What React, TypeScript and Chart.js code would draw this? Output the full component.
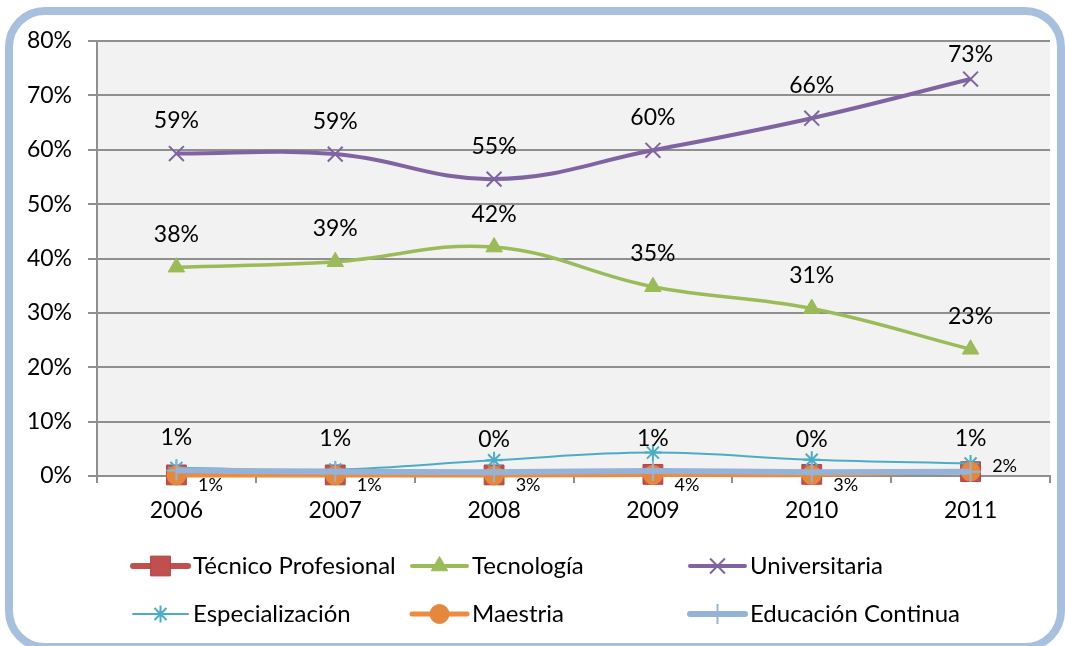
import { useEffect, useRef } from 'react';
import { Chart, registerables } from 'chart.js';

Chart.register(...registerables);

// ---- data ----
const years = ['2006', '2007', '2008', '2009', '2010', '2011'];
const tecnicoProfesional = [0.2, 0.2, 0.2, 0.3, 0.3, 0.8];
const tecnologia = [38.4, 39.4, 42.1, 34.8, 30.8, 23.3];
const universitaria = [59.3, 59.2, 54.6, 59.9, 65.8, 73.0];
const especializacion = [1.5, 1.2, 2.9, 4.3, 3.0, 2.3];
const maestria = [0.1, 0.1, 0.1, 0.2, 0.2, 0.8];
const educacionContinua = [1.0, 0.8, 0.7, 0.9, 0.7, 0.8];
const educacionContinuaLabels = ['1%', '1%', '0%', '1%', '0%', '1%'];
const especializacionLabels = ['1%', '1%', '3%', '4%', '3%', '2%'];
const yMax = 80;
const yStep = 10;

const FONT = 'Lato, "Open Sans", sans-serif';

function drawMarker(
  ctx: CanvasRenderingContext2D,
  style: string,
  x: number,
  y: number,
  r: number,
  fill: string,
  stroke: string,
  bw: number
) {
  ctx.save();
  ctx.fillStyle = fill;
  ctx.strokeStyle = stroke;
  ctx.lineWidth = bw;
  ctx.beginPath();
  if (style === 'rect') {
    const s = Math.SQRT1_2 * r;
    ctx.rect(x - s, y - s, 2 * s, 2 * s);
    ctx.fill();
    ctx.stroke();
  } else if (style === 'circle') {
    ctx.arc(x, y, r, 0, Math.PI * 2);
    ctx.fill();
    ctx.stroke();
  } else if (style === 'triangle') {
    ctx.moveTo(x, y - r);
    ctx.lineTo(x + 0.866 * r, y + 0.5 * r);
    ctx.lineTo(x - 0.866 * r, y + 0.5 * r);
    ctx.closePath();
    ctx.fill();
    ctx.stroke();
  } else {
    const d = Math.SQRT1_2 * r;
    if (style === 'crossRot' || style === 'star') {
      ctx.moveTo(x - d, y - d);
      ctx.lineTo(x + d, y + d);
      ctx.moveTo(x - d, y + d);
      ctx.lineTo(x + d, y - d);
    }
    if (style === 'cross' || style === 'star') {
      ctx.moveTo(x, y - r);
      ctx.lineTo(x, y + r);
      ctx.moveTo(x - r, y);
      ctx.lineTo(x + r, y);
    }
    ctx.stroke();
  }
  ctx.restore();
}

function roundRectPath(ctx: CanvasRenderingContext2D, x: number, y: number, w: number, h: number, r: number) {
  ctx.beginPath();
  ctx.moveTo(x + r, y);
  ctx.lineTo(x + w - r, y);
  ctx.arcTo(x + w, y, x + w, y + r, r);
  ctx.lineTo(x + w, y + h - r);
  ctx.arcTo(x + w, y + h, x + w - r, y + h, r);
  ctx.lineTo(x + r, y + h);
  ctx.arcTo(x, y + h, x, y + h - r, r);
  ctx.lineTo(x, y + r);
  ctx.arcTo(x, y, x + r, y, r);
  ctx.closePath();
}

export default function App() {
  const canvasRef = useRef<HTMLCanvasElement | null>(null);

  useEffect(() => {
    const canvas = canvasRef.current;
    if (!canvas) return;

    const frame = {
      id: 'frame',
      beforeDraw(chart: any) {
        const { ctx, chartArea } = chart;
        ctx.save();
        ctx.fillStyle = '#ffffff';
        ctx.fillRect(0, 0, chart.width, chart.height);
        roundRectPath(ctx, 9, 11, 1052, 636, 36);
        ctx.lineWidth = 8;
        ctx.strokeStyle = '#a7c0de';
        ctx.stroke();
        ctx.fillStyle = '#f2f2f2';
        ctx.fillRect(chartArea.left, chartArea.top, chartArea.right - chartArea.left, chartArea.bottom - chartArea.top);
        ctx.restore();
      },
    };

    const labelsPlugin = {
      id: 'valueLabels',
      afterDatasetsDraw(chart: any) {
        const { ctx, chartArea } = chart;
        const y0 = chart.scales.y.getPixelForValue(0);
        ctx.save();
        ctx.fillStyle = '#000000';
        ctx.textAlign = 'center';
        ctx.textBaseline = 'middle';
        ctx.font = `23px ${FONT}`;
        const big = (dsIndex: number, texts: string[]) => {
          const meta = chart.getDatasetMeta(dsIndex);
          meta.data.forEach((pt: any, i: number) => {
            const y = Math.max(pt.y - 33, chartArea.top + 14);
            ctx.fillText(texts[i], pt.x, y);
          });
        };
        big(1, tecnologia.map((v) => `${Math.round(v)}%`));
        big(2, universitaria.map((v) => `${Math.round(v)}%`));
        big(5, educacionContinuaLabels);
        ctx.font = `18px ${FONT}`;
        const meta = chart.getDatasetMeta(3);
        const tp = chart.getDatasetMeta(0);
        const last = meta.data.length - 1;
        meta.data.forEach((pt: any, i: number) => {
          const y = i === last ? tp.data[i].y - 5 : y0 + 9;
          ctx.fillText(especializacionLabels[i], pt.x + 34, y);
        });
        ctx.restore();
      },
      afterDraw(chart: any) {
        const { ctx } = chart;
        const colX = [133, 412, 690];
        const rowY = [566, 614];
        chart.data.datasets.forEach((ds: any, i: number) => {
          const x0 = colX[i % 3];
          const y = rowY[Math.floor(i / 3)];
          ctx.save();
          ctx.strokeStyle = ds.borderColor;
          ctx.lineWidth = ds.legendLineWidth;
          ctx.lineCap = 'round';
          ctx.beginPath();
          ctx.moveTo(x0, y);
          ctx.lineTo(x0 + 55, y);
          ctx.stroke();
          ctx.restore();
          drawMarker(
            ctx,
            ds.pointStyle,
            x0 + 27.5,
            y,
            ds.pointRadius,
            ds.pointBackgroundColor,
            ds.pointBorderColor,
            ds.pointBorderWidth
          );
          ctx.save();
          ctx.fillStyle = '#000000';
          ctx.font = `24px ${FONT}`;
          ctx.textAlign = 'left';
          ctx.textBaseline = 'middle';
          ctx.fillText(ds.label, x0 + 60, y);
          ctx.restore();
        });
      },
    };

    const gridColor = '#8f8f8f';

    const chart = new Chart(canvas, {
      type: 'line',
      data: {
        labels: years,
        datasets: [
          {
            label: 'Técnico Profesional',
            data: tecnicoProfesional,
            borderColor: '#c0504d',
            borderWidth: 4,
            pointStyle: 'rect',
            pointRadius: 14,
            pointBackgroundColor: '#c0504d',
            pointBorderColor: '#b04542',
            pointBorderWidth: 1,
            legendLineWidth: 6,
            tension: 0.4,
            clip: false,
            order: 6,
          } as any,
          {
            label: 'Tecnología',
            data: tecnologia,
            borderColor: '#9bbb59',
            borderWidth: 3.5,
            pointStyle: 'triangle',
            pointRadius: 9.5,
            pointBackgroundColor: '#9bbb59',
            pointBorderColor: '#9bbb59',
            pointBorderWidth: 1,
            legendLineWidth: 4,
            tension: 0.4,
            clip: false,
            order: 5,
          } as any,
          {
            label: 'Universitaria',
            data: universitaria,
            borderColor: '#8064a2',
            borderWidth: 4,
            pointStyle: 'crossRot',
            pointRadius: 10.5,
            pointBackgroundColor: '#8064a2',
            pointBorderColor: '#8064a2',
            pointBorderWidth: 2,
            legendLineWidth: 4,
            tension: 0.4,
            clip: false,
            order: 4,
          } as any,
          {
            label: 'Especialización',
            data: especializacion,
            borderColor: '#4bacc6',
            borderWidth: 2,
            pointStyle: 'star',
            pointRadius: 8.5,
            pointBackgroundColor: '#4bacc6',
            pointBorderColor: '#4bacc6',
            pointBorderWidth: 2,
            legendLineWidth: 2,
            tension: 0.4,
            clip: false,
            order: 3,
          } as any,
          {
            label: 'Maestria',
            data: maestria,
            borderColor: '#f08a3c',
            borderWidth: 4,
            pointStyle: 'circle',
            pointRadius: 9.5,
            pointBackgroundColor: '#e6873e',
            pointBorderColor: '#e6873e',
            pointBorderWidth: 1,
            legendLineWidth: 5,
            tension: 0.4,
            clip: false,
            order: 2,
          } as any,
          {
            label: 'Educación Continua',
            data: educacionContinua,
            borderColor: '#95b3d7',
            borderWidth: 6,
            pointStyle: 'cross',
            pointRadius: 10,
            pointBackgroundColor: '#95b3d7',
            pointBorderColor: '#95b3d7',
            pointBorderWidth: 2,
            legendLineWidth: 6,
            tension: 0.4,
            clip: false,
            order: 1,
          } as any,
        ],
      },
      options: {
        responsive: false,
        animation: false,
        devicePixelRatio: 1,
        layout: { padding: { top: 41, right: 15, bottom: 110, left: 0 } },
        plugins: {
          legend: { display: false },
          tooltip: { enabled: false },
        },
        scales: {
          x: {
            offset: true,
            grid: {
              offset: true,
              drawOnChartArea: false,
              drawTicks: true,
              tickLength: 7,
              color: gridColor,
              lineWidth: 2,
            },
            border: { display: true, color: gridColor, width: 2 },
            ticks: {
              color: '#000000',
              font: { family: FONT, size: 23 },
              padding: 14,
              maxRotation: 0,
            },
            afterFit(scale: any) {
              scale.height = 60;
            },
          },
          y: {
            min: 0,
            max: yMax,
            grid: {
              color: gridColor,
              lineWidth: 2,
              drawTicks: true,
              tickLength: 9,
            },
            border: { display: true, color: gridColor, width: 2 },
            ticks: {
              stepSize: yStep,
              color: '#000000',
              font: { family: FONT, size: 23 },
              padding: 16,
              callback: (v: any) => `${v}%`,
            },
            afterFit(scale: any) {
              scale.width = 97;
            },
          },
        },
      } as any,
      plugins: [frame, labelsPlugin],
    });

    return () => chart.destroy();
  }, []);

  return (
    <div style={{ position: 'fixed', left: 0, top: 0, width: 1065, height: 646, background: '#ffffff' }}>
      <canvas ref={canvasRef} width={1065} height={646} style={{ display: 'block', width: 1065, height: 646 }} />
    </div>
  );
}
